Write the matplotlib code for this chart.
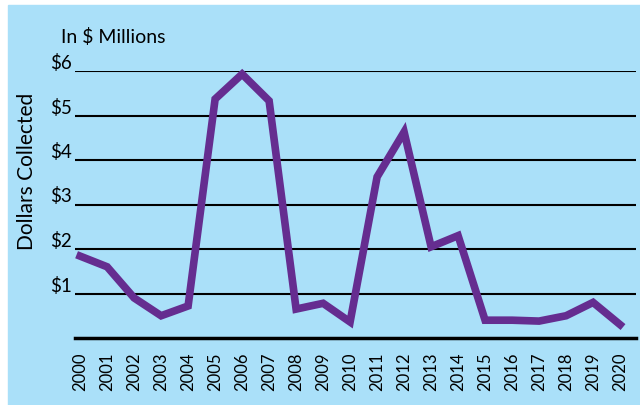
import matplotlib
matplotlib.use("Agg")
import matplotlib.pyplot as plt
import matplotlib.transforms as mtransforms

plt.rcParams['font.family'] = ['Lato', 'DejaVu Sans']

years = list(range(2000, 2021))
dollars = [1.84, 1.6, 0.9, 0.5, 0.72, 5.37, 5.93, 5.33, 0.65, 0.78, 0.36,
           3.62, 4.63, 2.05, 2.3, 0.4, 0.4, 0.38, 0.5, 0.8, 0.3]
ytick_vals = [1, 2, 3, 4, 5, 6]
ytick_labels = ["$1", "$2", "$3", "$4", "$5", "$6"]

bg = "#aae0f9"
purple = "#652d90"

fig = plt.figure(figsize=(6.4, 4.06), dpi=100)
# white strip at left/top like the reference
fig.patch.set_facecolor("white")
fig.add_artist(plt.Rectangle((8 / 640, 0), 1, 1 - 6 / 406,
                             transform=fig.transFigure, color=bg, zorder=0))

ax = fig.add_axes([75 / 640, 67 / 406, 561 / 640, 267 / 406])
ax.set_facecolor("none")

for v in ytick_vals:
    ax.axhline(v, color="black", lw=1.5, zorder=1)
ax.axhline(0, color="black", lw=2.5, zorder=1, clip_on=False)

ax.plot(years, dollars, color=purple, lw=5.5, solid_joinstyle="miter",
        zorder=3, clip_on=False)

ax.set_xlim(1999.81, 2020.59)
ax.set_ylim(0, 6)
ax.set_yticks(ytick_vals)
ax.set_yticklabels(ytick_labels, fontsize=13.5)
ax.set_xticks(years)
ax.set_xticklabels([str(y) for y in years], rotation=90, fontsize=12)
ax.tick_params(length=0, pad=2)
ax.tick_params(axis="x", pad=10)
shift = mtransforms.ScaledTranslation(0, 3 / 100, fig.dpi_scale_trans)
for lab in ax.get_yticklabels():
    lab.set_va("baseline")
    lab.set_transform(lab.get_transform() + shift)
for s in ax.spines.values():
    s.set_visible(False)

fig.text(61 / 640, 1 - 37 / 406, "In $ Millions", fontsize=14,
         va="center", ha="left")
fig.text(27 / 640, 1 - 171 / 406, "Dollars Collected", fontsize=15,
         rotation=90, va="center", ha="center")

fig.savefig("out.png", dpi=100, facecolor=fig.get_facecolor())
